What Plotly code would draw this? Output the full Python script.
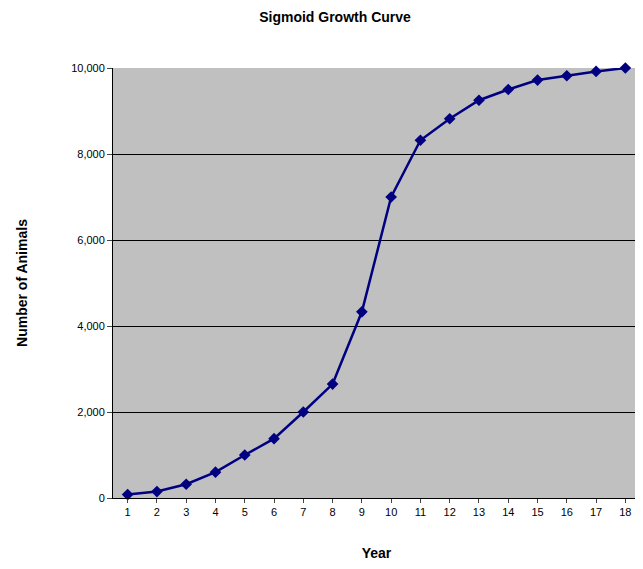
import plotly.graph_objects as go

years = list(range(1, 19))
animals = [80, 150, 320, 600, 1000, 1380, 2000, 2650, 4330,
           7000, 8320, 8820, 9250, 9500, 9720, 9820, 9920, 10000]

fig = go.Figure()
fig.add_trace(go.Scatter(
    x=years, y=animals, mode="lines+markers",
    line=dict(color="#000080", width=2.5),
    marker=dict(symbol="diamond", size=9, color="#000080"),
    cliponaxis=False,
))

# page body has an 8px margin, so size the figure to fit inside the window
fig.update_layout(
    width=635, height=553,
    paper_bgcolor="white", plot_bgcolor="#c0c0c0",
    font=dict(family="Liberation Sans, Arial, sans-serif", size=11, color="black"),
    title=dict(text="<b>Sigmoid Growth Curve</b>", x=0.515, xanchor="center",
               y=0.984, yanchor="middle", font=dict(size=14)),
    margin=dict(l=105, r=3, t=60, b=61),
    showlegend=False,
)
fig.update_xaxes(
    range=[0.5, 18.5], tickmode="linear", tick0=1, dtick=1,
    showgrid=False, showline=True, linecolor="black", ticks="outside",
    ticklen=4,
    title=dict(text="<b>Year</b>", font=dict(size=14), standoff=30),
)
fig.update_yaxes(
    range=[0, 10000], dtick=2000, tickformat=",",
    showgrid=True, gridcolor="black", gridwidth=1,
    showline=True, linecolor="black", ticks="outside", ticklen=5,
    title=dict(text="<b>Number of Animals</b>", font=dict(size=14), standoff=40),
)

fig.write_html("out.html")
